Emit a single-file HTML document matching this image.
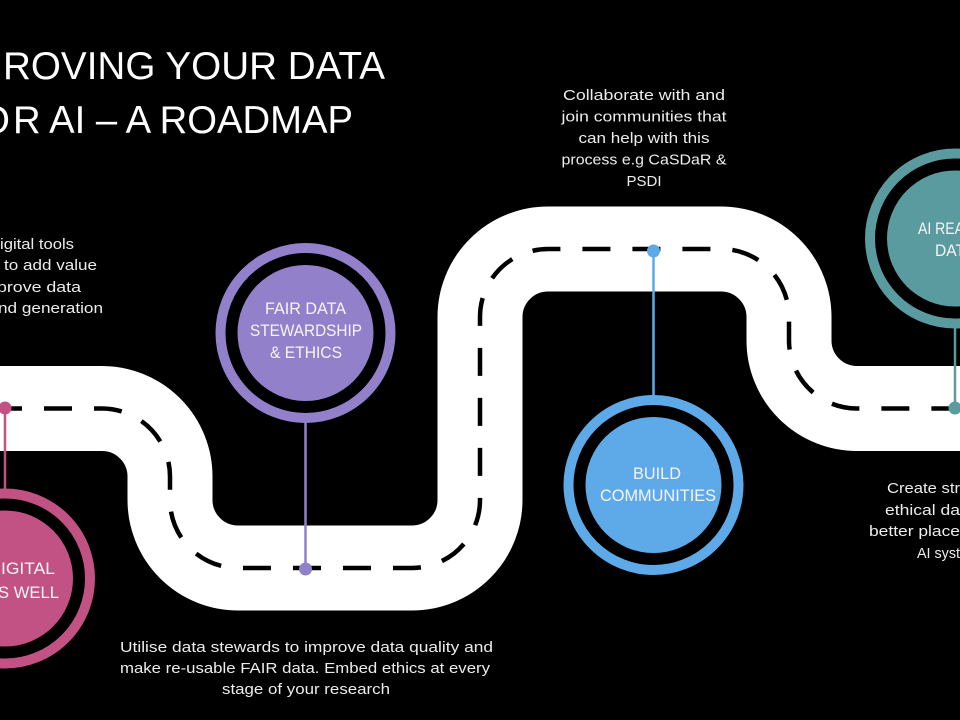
<!DOCTYPE html>
<html>
<head>
<meta charset="utf-8">
<style>
  html, body { margin: 0; padding: 0; background: #000; }
  body { width: 960px; height: 720px; overflow: hidden; }
  svg { display: block; }
  text { font-family: "Liberation Sans", sans-serif; }
  .title { font-size: 39px; fill: #ffffff; }
  .body { font-size: 15px; fill: #ececec; }
  .ctext { font-size: 16.5px; fill: #f6f4fa; }
</style>
</head>
<body>
<svg width="960" height="720" viewBox="0 0 960 720" xmlns="http://www.w3.org/2000/svg">
  <rect width="960" height="720" fill="#000"/>

  <!-- Road -->
  <path d="M -20 408.5 H 102 A 68 68 0 0 1 170 476.5 V 500 A 68 68 0 0 0 238 568 H 412 A 68 68 0 0 0 480 500 V 317 A 68 68 0 0 1 548 249 H 721 A 68 68 0 0 1 789 317 V 340.5 A 68 68 0 0 0 857 408.5 H 980"
        fill="none" stroke="#ffffff" stroke-width="85"/>
  <path d="M -20 408.5 H 102 A 68 68 0 0 1 170 476.5 V 500 A 68 68 0 0 0 238 568 H 412 A 68 68 0 0 0 480 500 V 317 A 68 68 0 0 1 548 249 H 721 A 68 68 0 0 1 789 317 V 340.5 A 68 68 0 0 0 857 408.5 H 980"
        fill="none" stroke="#000000" stroke-width="4.5" stroke-dasharray="28 22" stroke-dashoffset="36"/>

  <!-- Title -->
  <text class="title" x="-2" y="79" text-anchor="end">IMP</text>
  <text class="title" x="3" y="79" textLength="382" lengthAdjust="spacingAndGlyphs">ROVING YOUR DATA</text>
  <text class="title" x="10" y="133" text-anchor="end">FO</text>
  <text class="title" x="13" y="133" textLength="340" lengthAdjust="spacingAndGlyphs">R AI – A ROADMAP</text>

  <!-- Left text (visible parts sized to reference) -->
  <text class="body" x="-2" y="249" text-anchor="end">Use d</text>
  <text class="body" x="0" y="249" textLength="74" lengthAdjust="spacingAndGlyphs">igital tools</text>
  <text class="body" x="0" y="270" text-anchor="end">and AI</text>
  <text class="body" x="4" y="270" textLength="93" lengthAdjust="spacingAndGlyphs">to add value</text>
  <text class="body" x="-4" y="292" text-anchor="end">and im</text>
  <text class="body" x="-3" y="292" textLength="84" lengthAdjust="spacingAndGlyphs">prove data</text>
  <text class="body" x="-3" y="313" text-anchor="end">curation a</text>
  <text class="body" x="-2" y="313" textLength="105" lengthAdjust="spacingAndGlyphs">nd generation</text>

  <!-- Collaborate text -->
  <text class="body" x="644" y="100" text-anchor="middle" textLength="162" lengthAdjust="spacingAndGlyphs">Collaborate with and</text>
  <text class="body" x="644" y="121.5" text-anchor="middle" textLength="165" lengthAdjust="spacingAndGlyphs">join communities that</text>
  <text class="body" x="644" y="143" text-anchor="middle" textLength="131" lengthAdjust="spacingAndGlyphs">can help with this</text>
  <text class="body" x="644" y="164.5" text-anchor="middle" textLength="165" lengthAdjust="spacingAndGlyphs">process e.g CaSDaR &amp;</text>
  <text class="body" x="644" y="186" text-anchor="middle">PSDI</text>

  <!-- Bottom text -->
  <text class="body" x="306.5" y="652" text-anchor="middle" textLength="373" lengthAdjust="spacingAndGlyphs">Utilise data stewards to improve data quality and</text>
  <text class="body" x="305" y="673" text-anchor="middle" textLength="370" lengthAdjust="spacingAndGlyphs">make re-usable FAIR data. Embed ethics at every</text>
  <text class="body" x="306" y="694" text-anchor="middle" textLength="168" lengthAdjust="spacingAndGlyphs">stage of your research</text>

  <!-- Right text -->
  <text class="body" x="887" y="493" textLength="73" lengthAdjust="spacingAndGlyphs">Create str</text>
  <text class="body" x="961" y="493">ong</text>
  <text class="body" x="885" y="515" textLength="75" lengthAdjust="spacingAndGlyphs">ethical da</text>
  <text class="body" x="961" y="515">ta for</text>
  <text class="body" x="869" y="536" textLength="91" lengthAdjust="spacingAndGlyphs">better place</text>
  <text class="body" x="961" y="536">d for</text>
  <text class="body" x="917" y="558" textLength="43" lengthAdjust="spacingAndGlyphs">AI syst</text>
  <text class="body" x="961" y="558">ems</text>

  <!-- Pink circle -->
  <line x1="5" y1="408" x2="5" y2="489" stroke="#c25283" stroke-width="2.5"/>
  <circle cx="5" cy="408" r="6.5" fill="#c25283"/>
  <circle cx="5" cy="578.5" r="85" fill="none" stroke="#c25283" stroke-width="10"/>
  <circle cx="5" cy="578.5" r="68" fill="#c25283"/>
  <text class="ctext" x="-2" y="574" text-anchor="end">USE D</text>
  <text class="ctext" x="1" y="574" textLength="54" lengthAdjust="spacingAndGlyphs">IGITAL</text>
  <text class="ctext" x="-4" y="598" text-anchor="end">TOOLS A</text>
  <text class="ctext" x="-2" y="598" textLength="61" lengthAdjust="spacingAndGlyphs">S WELL</text>

  <!-- Purple circle -->
  <line x1="305.5" y1="420" x2="305.5" y2="569" stroke="#9280cb" stroke-width="2.5"/>
  <circle cx="305.5" cy="569" r="6.5" fill="#9280cb"/>
  <circle cx="305.5" cy="333" r="85" fill="none" stroke="#9280cb" stroke-width="10"/>
  <circle cx="305.5" cy="333" r="68" fill="#9280cb"/>
  <text class="ctext" x="305.5" y="314" text-anchor="middle" textLength="81" lengthAdjust="spacingAndGlyphs">FAIR DATA</text>
  <text class="ctext" x="306" y="336" text-anchor="middle" textLength="112" lengthAdjust="spacingAndGlyphs">STEWARDSHIP</text>
  <text class="ctext" x="306" y="358" text-anchor="middle" textLength="72" lengthAdjust="spacingAndGlyphs">&amp; ETHICS</text>

  <!-- Blue circle -->
  <line x1="653.5" y1="251" x2="653.5" y2="398" stroke="#5eaae8" stroke-width="2.5"/>
  <circle cx="653.5" cy="251" r="6.5" fill="#5eaae8"/>
  <circle cx="653.5" cy="485" r="85" fill="none" stroke="#5eaae8" stroke-width="10"/>
  <circle cx="653.5" cy="485" r="68" fill="#5eaae8"/>
  <text class="ctext" x="657" y="479" text-anchor="middle" textLength="48" lengthAdjust="spacingAndGlyphs">BUILD</text>
  <text class="ctext" x="658" y="501" text-anchor="middle" textLength="116" lengthAdjust="spacingAndGlyphs">COMMUNITIES</text>

  <!-- Teal circle -->
  <line x1="955" y1="326" x2="955" y2="408" stroke="#5a9ba0" stroke-width="2.5"/>
  <circle cx="955" cy="408" r="6.5" fill="#5a9ba0"/>
  <circle cx="955" cy="238.5" r="85" fill="none" stroke="#5a9ba0" stroke-width="10"/>
  <circle cx="955" cy="238.5" r="68" fill="#5a9ba0"/>
  <text class="ctext" x="918" y="234" textLength="46" lengthAdjust="spacingAndGlyphs">AI REA</text>
  <text class="ctext" x="965" y="234">DY</text>
  <text class="ctext" x="935" y="256" textLength="30" lengthAdjust="spacingAndGlyphs">DAT</text>
  <text class="ctext" x="966" y="256">A</text>
</svg>
</body>
</html>
